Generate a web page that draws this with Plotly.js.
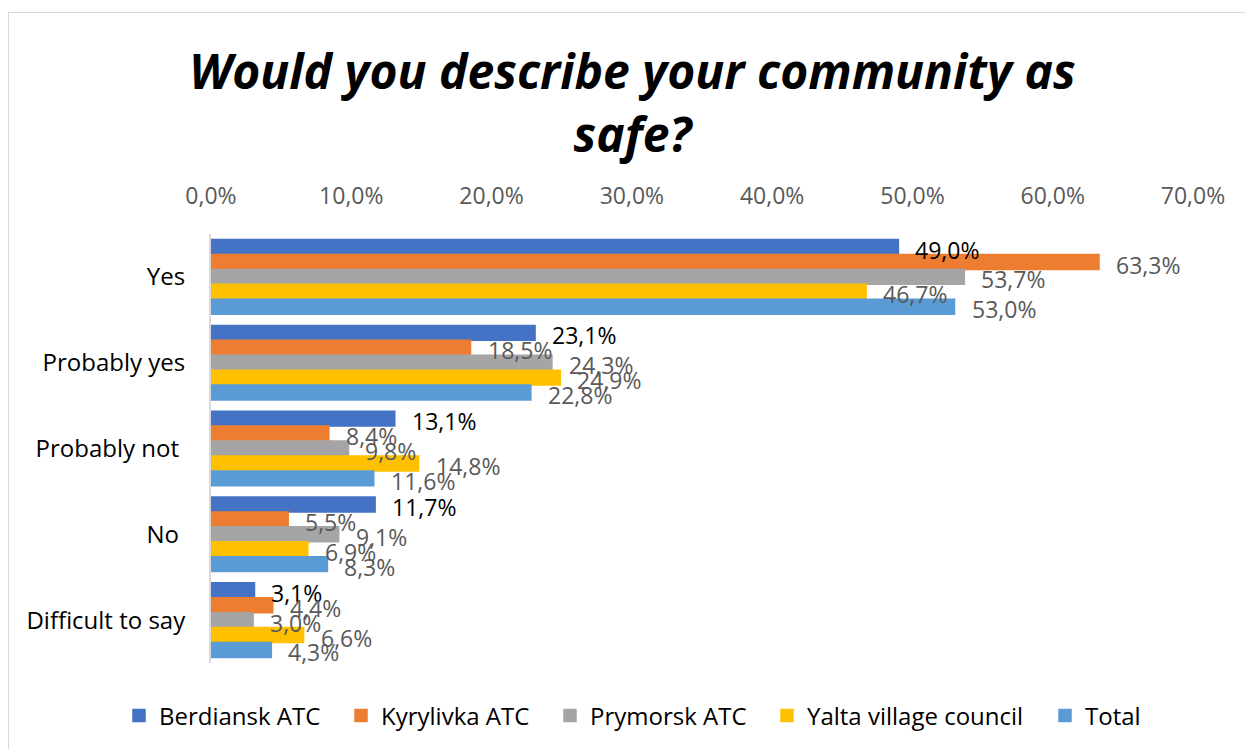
<!DOCTYPE html>
<html>
<head>
<meta charset="utf-8">
<script src="https://cdn.plot.ly/plotly-3.0.1.min.js"></script>
<style>
html,body{margin:0;padding:0;background:#fff;overflow:hidden;}
#frame{position:absolute;left:8px;top:12px;width:1400px;height:900px;border:1px solid #d9d9d9;box-sizing:border-box;}
#chart{position:absolute;left:0;top:0;width:1245px;height:749px;}
</style>
</head>
<body>
<div id="frame"></div>
<div id="chart"></div>
<script>
const categories = ["Yes", "Probably yes", "Probably not", "No", "Difficult to say"];
const categoryLabels = ["Yes", "Probably yes", "Probably not\u00a0", "No\u00a0", "Difficult to say"];
const seriesNames = ["Berdiansk ATC", "Kyrylivka ATC", "Prymorsk ATC", "Yalta village council", "Total"];
const berdiansk = [49.0, 23.1, 13.1, 11.7, 3.1];
const kyrylivka = [63.3, 18.5, 8.4, 5.5, 4.4];
const prymorsk  = [53.7, 24.3, 9.8, 9.1, 3.0];
const yalta     = [46.7, 24.9, 14.8, 6.9, 6.6];
const total     = [53.0, 22.8, 11.6, 8.3, 4.3];
const tickValues = [0, 10, 20, 30, 40, 50, 60, 70];
const tickLabels = ["0,0%", "10,0%", "20,0%", "30,0%", "40,0%", "50,0%", "60,0%", "70,0%"];

const seriesValues = [berdiansk, kyrylivka, prymorsk, yalta, total];
const colors = ["#4472C4", "#ED7D31", "#A5A5A5", "#FFC000", "#5B9BD5"];
const labelColors = ["#000000", "#595959", "#595959", "#595959", "#595959"];
const legendLeft = [119, 341, 550, 767, 1045]; // legend box left edges, px
const FONT = "Open Sans, Noto Sans, sans-serif";
const fmt = v => v.toFixed(1).replace(".", ",") + "%";
const legendIds = ["legend", "legend2", "legend3", "legend4", "legend5"];

const traces = seriesValues.map((vals, i) => ({
  type: "bar",
  orientation: "h",
  name: seriesNames[i],
  legend: legendIds[i],
  y: categories,
  x: vals,
  marker: {color: colors[i], line: {width: 1.5, color: colors[i]}},
  hoverinfo: "x+name"
}));

const barPx = 14.9;
const annotations = [];
seriesValues.forEach((vals, i) => {
  vals.forEach((v, j) => {
    annotations.push({
      x: v, y: categories[j], xref: "x", yref: "y",
      text: fmt(v), showarrow: false,
      xanchor: "left", yanchor: "middle",
      xshift: 15, yshift: -((i - 2) * barPx + 2.5),
      font: {family: FONT, size: 23, color: labelColors[i]}
    });
  });
});

const layout = {
  width: 1245, height: 749,
  paper_bgcolor: "rgba(0,0,0,0)",
  plot_bgcolor: "rgba(0,0,0,0)",
  margin: {l: 211, r: 52, t: 234, b: 86, pad: 0, autoexpand: false},
  title: {
    text: "<b><i>Would you describe your community as<br>safe?</i></b>",
    font: {family: FONT, size: 48, color: "#000000"},
    x: 0.508, xanchor: "center", xref: "container",
    y: 0.881, yanchor: "middle", yref: "container",
    automargin: false
  },
  barmode: "group",
  bargap: 0.13,
  bargroupgap: 0,
  xaxis: {
    side: "top",
    range: [0, 70],
    tickvals: tickValues,
    ticktext: tickLabels,
    showgrid: false,
    zeroline: false,
    showline: false,
    ticks: "",
    ticklabelstandoff: 24,
    tickfont: {family: FONT, size: 23, color: "#595959"},
    fixedrange: true
  },
  yaxis: {
    range: [categories.length - 0.5, -0.5],
    autorange: false,
    categoryorder: "array",
    categoryarray: categories,
    tickvals: categories,
    ticktext: categoryLabels,
    showgrid: false,
    zeroline: false,
    showline: true,
    linecolor: "#d9d9d9",
    linewidth: 2,
    ticks: "",
    ticklabelstandoff: 19,
    tickfont: {family: FONT, size: 24, color: "#000000"},
    fixedrange: true
  },
  annotations: annotations,
  showlegend: true
};
legendIds.forEach((id, i) => {
  layout[id] = {
    orientation: "h",
    xref: "container", yref: "container",
    x: legendLeft[i] / 1245, xanchor: "left",
    y: 1 - 716 / 749, yanchor: "middle",
    font: {family: FONT, size: 24, color: "#000000"},
    bgcolor: "rgba(0,0,0,0)",
    borderwidth: 0,
    itemclick: false
  };
});

Plotly.newPlot("chart", traces, layout, {displayModeBar: false, staticPlot: true});
</script>
</body>
</html>
